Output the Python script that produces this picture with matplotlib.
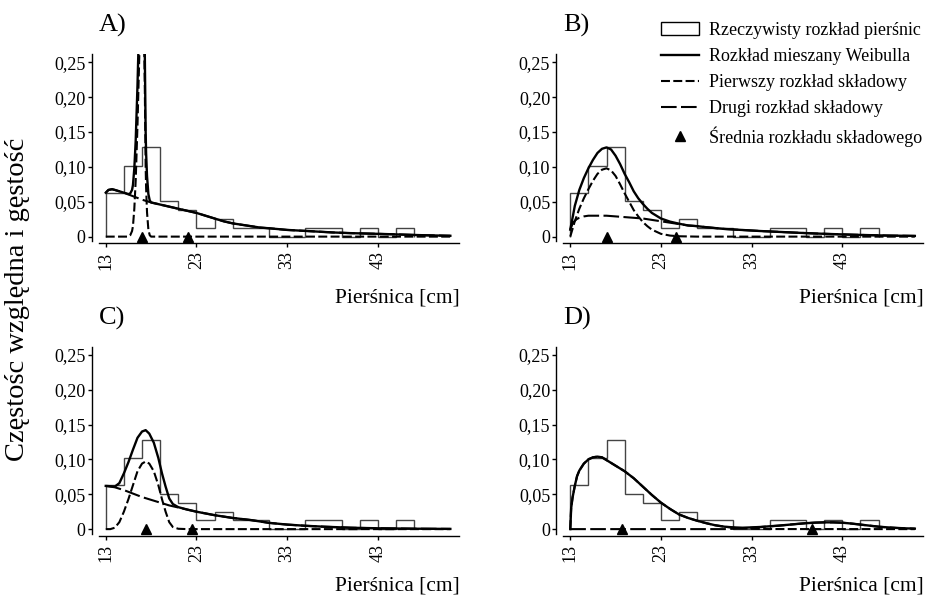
import matplotlib
matplotlib.use('Agg')
import matplotlib.pyplot as plt
from matplotlib.lines import Line2D
from matplotlib.patches import Patch

plt.rcParams['font.family'] = ['Liberation Serif', 'DejaVu Serif']

# histogram of observed diameters (2 cm classes from 13 cm)
bin_edges = [13, 15, 17, 19, 21, 23, 25, 27, 29, 31, 33, 35, 37, 39, 41, 43, 45, 47]
hist_vals = [0.063, 0.102, 0.128, 0.051, 0.038, 0.0125, 0.025, 0.0125, 0.0125,
             0, 0, 0.0125, 0.0125, 0, 0.0125, 0, 0.0125]

# --- panel A ---
a_mix_x = [13, 13.3, 13.7, 14, 15, 15.5, 15.7, 15.9, 16.0, 16.15, 16.3, 16.4, 16.5, 16.6, 16.7,
           16.85, 17.0, 17.15, 17.3, 17.35, 17.4, 17.45, 17.55, 17.7, 17.85, 18, 19, 20, 21, 22,
           23, 24, 25, 26, 27, 28, 29, 30, 31, 33, 35, 38, 40, 43, 46, 48, 51]
a_mix_y = [0.063, 0.067, 0.068, 0.067, 0.063, 0.061, 0.062, 0.067, 0.074, 0.098, 0.137, 0.177,
           0.217, 0.267, 0.316, 0.405, 0.453, 0.402, 0.27, 0.21, 0.15, 0.12, 0.087, 0.061, 0.052,
           0.049, 0.046, 0.043, 0.040, 0.037, 0.034, 0.030, 0.026, 0.022, 0.019, 0.017, 0.015,
           0.013, 0.012, 0.0096, 0.0082, 0.006, 0.005, 0.004, 0.0028, 0.002, 0.0012]
a_c1_x = [13, 15.5, 15.7, 15.9, 16.0, 16.15, 16.3, 16.4, 16.5, 16.6, 16.7, 16.85, 17.0, 17.15,
          17.3, 17.35, 17.4, 17.45, 17.55, 17.7, 17.85, 18.0, 51]
a_c1_y = [0, 0, 0.002, 0.008, 0.015, 0.04, 0.08, 0.12, 0.16, 0.21, 0.26, 0.35, 0.40, 0.35,
          0.22, 0.16, 0.10, 0.07, 0.035, 0.01, 0.002, 0, 0]
a_c2_x = [13, 13.3, 13.7, 14, 15, 16, 17, 18, 19, 20, 21, 22, 23, 24, 25, 26, 27, 28, 29, 30,
          31, 33, 35, 38, 40, 43, 46, 48, 51]
a_c2_y = [0.063, 0.067, 0.068, 0.067, 0.063, 0.058, 0.053, 0.049, 0.046, 0.043, 0.040, 0.037,
          0.034, 0.030, 0.026, 0.022, 0.019, 0.017, 0.015, 0.013, 0.012, 0.0096, 0.0082, 0.006,
          0.005, 0.004, 0.0028, 0.002, 0.0012]
a_means = [17.0, 22.1]

# --- panel B ---
b_mix_x = [13, 13.3, 13.5, 14, 14.5, 15, 15.5, 16, 16.5, 17, 17.5, 18, 18.5, 19, 19.5, 20,
           20.5, 21, 21.5, 22, 22.5, 23, 24, 25, 26, 27, 28, 30, 32, 34, 36, 38, 40, 42, 44,
           46, 48, 51]
b_mix_y = [0.01, 0.030, 0.044, 0.067, 0.084, 0.098, 0.110, 0.120, 0.126, 0.128, 0.125, 0.116,
           0.104, 0.090, 0.078, 0.065, 0.055, 0.047, 0.040, 0.034, 0.030, 0.026, 0.0215, 0.0185,
           0.016, 0.015, 0.0135, 0.011, 0.0095, 0.008, 0.0068, 0.0056, 0.0045, 0.0036, 0.0028,
           0.0021, 0.0015, 0.001]
b_c1_x = [13, 13.5, 14, 14.5, 15, 15.5, 16, 16.5, 17, 17.5, 18, 18.5, 19, 19.5, 20, 20.5, 21,
          21.5, 22, 22.5, 23, 24, 25, 27, 51]
b_c1_y = [0, 0.022, 0.040, 0.055, 0.068, 0.080, 0.090, 0.096, 0.098, 0.095, 0.087, 0.075,
          0.062, 0.050, 0.038, 0.029, 0.021, 0.015, 0.010, 0.007, 0.004, 0.0015, 0.0005, 0, 0]
b_c2_x = [13, 13.3, 13.7, 14, 14.5, 15, 16, 17, 18, 19, 20, 21, 22, 23, 24, 25, 26, 27, 28,
          30, 32, 34, 36, 38, 40, 42, 44, 46, 48, 51]
b_c2_y = [0.01, 0.020, 0.025, 0.027, 0.029, 0.030, 0.030, 0.030, 0.029, 0.028, 0.027, 0.026,
          0.024, 0.022, 0.020, 0.018, 0.016, 0.015, 0.0135, 0.011, 0.0095, 0.008, 0.0068,
          0.0056, 0.0045, 0.0036, 0.0028, 0.0021, 0.0015, 0.001]
b_means = [17.1, 24.7]

# --- panel C ---
c_mix_x = [13, 14, 14.5, 15, 15.5, 16, 16.5, 17, 17.4, 17.8, 18.3, 18.8, 19.2, 19.6, 20, 20.4,
           21, 22, 23, 24, 25, 26, 27, 28, 29, 31, 33, 35, 37, 40, 43, 47, 51]
c_mix_y = [0.062, 0.061, 0.066, 0.080, 0.096, 0.114, 0.131, 0.140, 0.142, 0.137, 0.124, 0.102,
           0.080, 0.061, 0.044, 0.036, 0.0315, 0.028, 0.025, 0.0225, 0.020, 0.018, 0.016,
           0.0145, 0.013, 0.009, 0.0065, 0.0048, 0.0035, 0.002, 0.0012, 0.0006, 0.0003]
c_c1_x = [13, 13.5, 14, 14.5, 15, 15.5, 16, 16.5, 17, 17.4, 17.8, 18.3, 18.8, 19.2, 19.6, 20.0,
          20.4, 21, 22, 51]
c_c1_y = [0, 0, 0.002, 0.010, 0.025, 0.043, 0.063, 0.083, 0.094, 0.097, 0.094, 0.083, 0.063,
          0.043, 0.025, 0.010, 0.003, 0.0005, 0, 0]
c_c2_x = [13, 14, 15, 16, 17, 18, 19, 20, 21, 22, 23, 24, 25, 26, 27, 28, 29, 31, 33, 35, 37,
          40, 43, 47, 51]
c_c2_y = [0.062, 0.060, 0.056, 0.051, 0.046, 0.042, 0.038, 0.034, 0.031, 0.028, 0.025, 0.0225,
          0.020, 0.018, 0.016, 0.0145, 0.013, 0.009, 0.0065, 0.0048, 0.0035, 0.002, 0.0012,
          0.0006, 0.0003]
c_means = [17.4, 22.55]

# --- panel D ---
d_c1_x = [13, 13.1, 13.25, 13.5, 13.75, 14, 14.5, 15, 15.5, 16, 16.5, 17, 17.5, 18, 19, 20, 21,
          22, 23, 24, 25, 26, 27, 28, 29, 30, 31, 32, 33, 35, 51]
d_c1_y = [0, 0.03, 0.045, 0.062, 0.076, 0.084, 0.094, 0.100, 0.103, 0.104, 0.103, 0.099, 0.095,
          0.091, 0.083, 0.073, 0.061, 0.049, 0.038, 0.029, 0.021, 0.016, 0.012, 0.0085, 0.0055,
          0.0035, 0.002, 0.001, 0.0005, 0.0001, 0]
d_c2_x = [13, 30, 31, 32, 33, 34, 35, 36, 37, 38, 39, 40, 41, 42, 43, 44, 45, 46, 47, 48, 49,
          50, 51]
d_c2_y = [0, 0, 0.0005, 0.001, 0.002, 0.003, 0.004, 0.005, 0.0062, 0.0074, 0.0085, 0.0093,
          0.0097, 0.0097, 0.0092, 0.008, 0.0065, 0.005, 0.0035, 0.0025, 0.0017, 0.0011, 0.0007]
d_mix_x = [13, 13.1, 13.25, 13.5, 13.75, 14, 14.5, 15, 15.5, 16, 16.5, 17, 17.5, 18, 19, 20, 21,
           22, 23, 24, 25, 26, 27, 28, 29, 30, 31, 32, 33, 34, 35, 36, 37, 38, 39, 40, 41, 42,
           43, 44, 45, 46, 47, 48, 49, 50, 51]
d_mix_y = [0, 0.03, 0.045, 0.062, 0.076, 0.084, 0.094, 0.100, 0.103, 0.104, 0.103, 0.099, 0.095,
           0.091, 0.083, 0.073, 0.061, 0.049, 0.038, 0.029, 0.021, 0.016, 0.012, 0.0085, 0.0055,
           0.0035, 0.0025, 0.002, 0.0025, 0.0031, 0.0041, 0.005, 0.0062, 0.0074, 0.0085,
           0.0093, 0.0097, 0.0097, 0.0092, 0.008, 0.0065, 0.005, 0.0035, 0.0025, 0.0017,
           0.0011, 0.0007]
d_means = [18.7, 39.7]

y_ticks = [0, 0.05, 0.10, 0.15, 0.20, 0.25]
y_tick_labels = ['0', '0,05', '0,10', '0,15', '0,20', '0,25']
x_ticks = [13, 23, 33, 43]

short_dash = (4.3, 1.6)
long_dash = (7.5, 2.1)

W, H = 930, 599
fig = plt.figure(figsize=(W / 100, H / 100), dpi=100)


def add_panel(left, top, width, height):
    return fig.add_axes([left / W, 1 - (top + height) / H, width / W, height / H])


panels = [
    ('A)', (98.5, 54), (a_mix_x, a_mix_y), (a_c1_x, a_c1_y), (a_c2_x, a_c2_y), a_means),
    ('B)', (563, 54), (b_mix_x, b_mix_y), (b_c1_x, b_c1_y), (b_c2_x, b_c2_y), b_means),
    ('C)', (98.5, 346.5), (c_mix_x, c_mix_y), (c_c1_x, c_c1_y), (c_c2_x, c_c2_y), c_means),
    ('D)', (563, 346.5), (d_mix_x, d_mix_y), (d_c1_x, d_c1_y), (d_c2_x, d_c2_y), d_means),
]

for letter, (left, top), mix, c1, c2, means in panels:
    ax = add_panel(left, top, 360, 187.5)
    ax.stairs(hist_vals, bin_edges, color='#444444', lw=1.0)
    ax.plot(c2[0], c2[1], color='black', lw=1.5, dashes=long_dash)
    ax.plot(c1[0], c1[1], color='black', lw=1.5, dashes=short_dash)
    ax.plot(mix[0], mix[1], color='black', lw=1.7)
    ax.plot(means, [0] * len(means), ls='none', marker='^', color='black', markersize=7,
            clip_on=False, zorder=5)

    ax.set_xlim(12.2, 51.9)
    ax.set_ylim(-0.007, 0.262)
    ax.spines['top'].set_visible(False)
    ax.spines['right'].set_visible(False)
    ax.spines['left'].set_position(('outward', 4.7))
    ax.spines['bottom'].set_position(('outward', 1.2))
    for s in ('left', 'bottom'):
        ax.spines[s].set_linewidth(1.0)
    ax.set_yticks(y_ticks)
    ax.set_yticklabels(y_tick_labels)
    ax.set_xticks(x_ticks)
    ax.set_xticklabels([str(t) for t in x_ticks], rotation=90)
    ax.tick_params(axis='y', length=3, width=1, pad=1.5, labelsize=13)
    ax.tick_params(axis='x', length=3, width=1, pad=3, labelsize=13)

    shift = (top - 54) / H
    fig.text(left / W, 1 - 32 / H - shift, letter, fontsize=19, va='baseline', ha='left')
    xlab_base = 302 if top < 100 else 591
    fig.text((left + 361) / W, 1 - xlab_base / H, 'Pierśnica [cm]', fontsize=15.5,
             va='baseline', ha='right')

fig.text(18 / W, 0.5, 'Częstośc względna i gęstość', rotation=90, fontsize=20.5,
         ha='center', va='center')

handles = [
    Patch(facecolor='white', edgecolor='black', lw=1.0),
    Line2D([], [], color='black', lw=1.7),
    Line2D([], [], color='black', lw=1.5, dashes=short_dash),
    Line2D([], [], color='black', lw=1.5, dashes=long_dash),
    Line2D([], [], ls='none', marker='^', color='black', markersize=7),
]
labels = ['Rzeczywisty rozkład pierśnic', 'Rozkład mieszany Weibulla',
          'Pierwszy rozkład składowy', 'Drugi rozkład składowy',
          'Średnia rozkładu składowego']
fig.legend(handles, labels, loc='upper left', bbox_to_anchor=(661 / W, 1 - 22 / H),
           frameon=False, fontsize=13, handlelength=2.1, handletextpad=0.55,
           labelspacing=0.5, borderaxespad=0, borderpad=0)

fig.savefig('out.png', dpi=100)
